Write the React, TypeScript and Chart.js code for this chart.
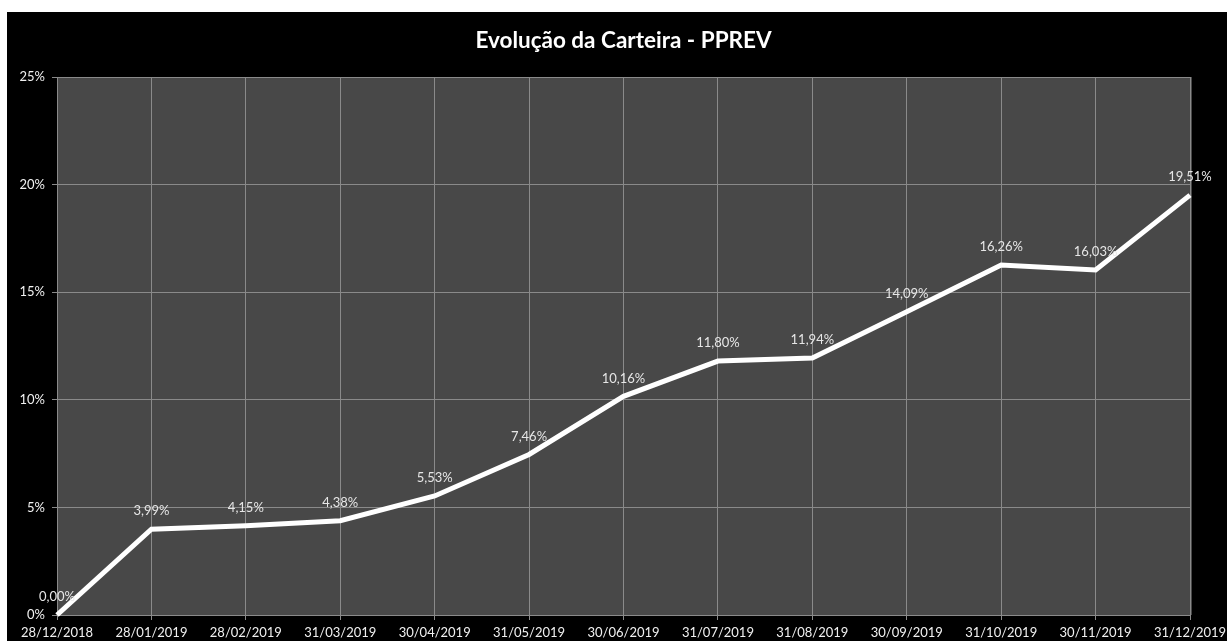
import React, { useEffect, useRef } from "react";
import { Chart, registerables } from "chart.js";

Chart.register(...registerables);

const TITLE = "Evolução da Carteira - PPREV";
const DATES = [
  "28/12/2018", "28/01/2019", "28/02/2019", "31/03/2019", "30/04/2019",
  "31/05/2019", "30/06/2019", "31/07/2019", "31/08/2019", "30/09/2019",
  "31/10/2019", "30/11/2019", "31/12/2019",
];
const VALUES = [0, 3.99, 4.15, 4.38, 5.53, 7.46, 10.16, 11.8, 11.94, 14.09, 16.26, 16.03, 19.51];
const Y_MIN = 0;
const Y_MAX = 25;
const Y_STEP = 5;

const FONT = "Lato, 'Open Sans', sans-serif";

const bgPlugin = {
  id: "bgPlugin",
  beforeDraw(chart: any) {
    const { ctx, chartArea } = chart;
    ctx.save();
    ctx.fillStyle = "#000000";
    ctx.fillRect(0, 0, chart.width, chart.height);
    ctx.fillStyle = "#484848";
    ctx.fillRect(chartArea.left, chartArea.top, chartArea.right - chartArea.left + 2, chartArea.bottom - chartArea.top);
    ctx.fillStyle = "#ffffff";
    ctx.font = `bold 22.5px ${FONT}`;
    ctx.textAlign = "center";
    ctx.textBaseline = "alphabetic";
    ctx.fillText(TITLE, (chartArea.left + chartArea.right) / 2, 36);
    ctx.restore();
  },
};

const labelPlugin = {
  id: "labelPlugin",
  afterDatasetsDraw(chart: any) {
    const { ctx } = chart;
    const meta = chart.getDatasetMeta(0);
    ctx.save();
    ctx.font = `13px ${FONT}`;
    ctx.fillStyle = "#e6e6e6";
    ctx.textAlign = "center";
    ctx.textBaseline = "middle";
    meta.data.forEach((pt: any, i: number) => {
      const txt = VALUES[i].toFixed(2).replace(".", ",") + "%";
      ctx.fillText(txt, pt.x, pt.y - 18);
    });
    ctx.restore();
  },
};

export default function App() {
  const ref = useRef<HTMLCanvasElement | null>(null);
  useEffect(() => {
    if (!ref.current) return;
    const chart = new Chart(ref.current, {
      type: "line",
      data: {
        labels: DATES,
        datasets: [
          {
            data: VALUES,
            borderColor: "#ffffff",
            borderWidth: 5,
            pointRadius: 0,
            tension: 0,
            borderJoinStyle: "miter",
            fill: false,
            clip: false,
          },
        ],
      },
      options: {
        animation: false,
        responsive: false,
        maintainAspectRatio: false,
        layout: { padding: { left: 0, right: 37, top: 65, bottom: 0 } },
        plugins: {
          legend: { display: false },
          tooltip: { enabled: false },
          title: { display: false },
        },
        scales: {
          x: {
            type: "category",
            offset: false,
            grid: { color: "#8a8a8a", lineWidth: 1, drawTicks: true, tickLength: 5, tickColor: "#8a8a8a" },
            border: { color: "#8a8a8a" },
            ticks: { color: "#f0f0f0", font: { family: FONT, size: 13 }, maxRotation: 0, autoSkip: false, padding: 5 },
            afterFit(scale: any) {
              scale.height = 26;
              scale.paddingLeft = 0;
              scale.paddingRight = 0;
            },
          },
          y: {
            min: Y_MIN,
            max: Y_MAX,
            grid: { color: "#8a8a8a", lineWidth: 1, drawTicks: true, tickLength: 5, tickColor: "#8a8a8a" },
            border: { color: "#8a8a8a" },
            ticks: {
              stepSize: Y_STEP,
              color: "#f0f0f0",
              font: { family: FONT, size: 13 },
              padding: 7,
              callback: (v: any) => `${v}%`,
            },
            afterFit(scale: any) {
              scale.width = 50;
              scale.paddingTop = 0;
              scale.paddingBottom = 0;
            },
          },
        },
      },
      plugins: [bgPlugin, labelPlugin],
    });
    return () => chart.destroy();
  }, []);
  return (
    <div style={{ position: "fixed", left: 7, top: 12, width: 1220, height: 629 }}>
      <canvas ref={ref} width={1220} height={629} style={{ display: "block" }} />
    </div>
  );
}
